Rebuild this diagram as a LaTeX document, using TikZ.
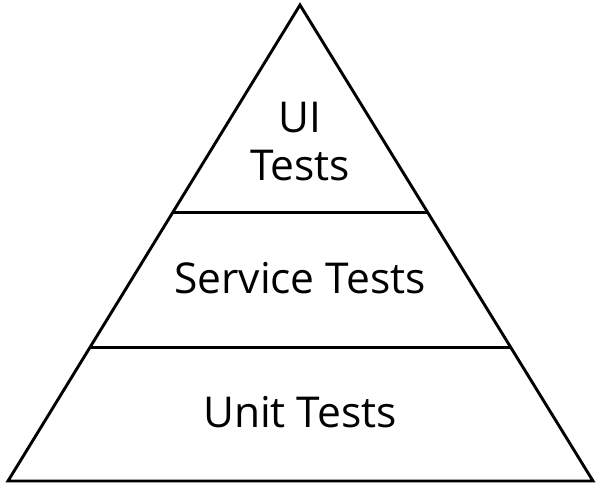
\documentclass[tikz,border=0pt]{standalone}
\usepackage{fontspec}
\setmainfont{Open Sans}
\usetikzlibrary{calc}
\tikzset{
  edge/.style={line width=2.9pt, line join=miter, draw=black},
  layer/.style={align=center, font=\fontsize{42.5}{48}\selectfont, inner sep=0pt},
}
\begin{document}
\begin{tikzpicture}[x=1pt, y=-1pt]
  \useasboundingbox (0,0) rectangle (600,488);
  \coordinate (apex) at (300,5);
  \coordinate (bl) at (8,481);
  \coordinate (br) at (593,481);
  % layer boundaries along the sides
  \coordinate (l1) at ($(apex)!0.435!(bl)$);
  \coordinate (r1) at ($(apex)!0.435!(br)$);
  \coordinate (l2) at ($(apex)!0.72!(bl)$);
  \coordinate (r2) at ($(apex)!0.72!(br)$);
  \draw[edge] (apex) -- (br) -- (bl) -- cycle;
  \draw[edge] (l1) -- (r1);
  \draw[edge] (l2) -- (r2);
  \node[layer] (ui) at (300,142) {UI\\Tests};
  \node[layer] (service) at (300,278) {Service Tests};
  \node[layer] (unit) at (300,412) {Unit Tests};
\end{tikzpicture}
\end{document}
